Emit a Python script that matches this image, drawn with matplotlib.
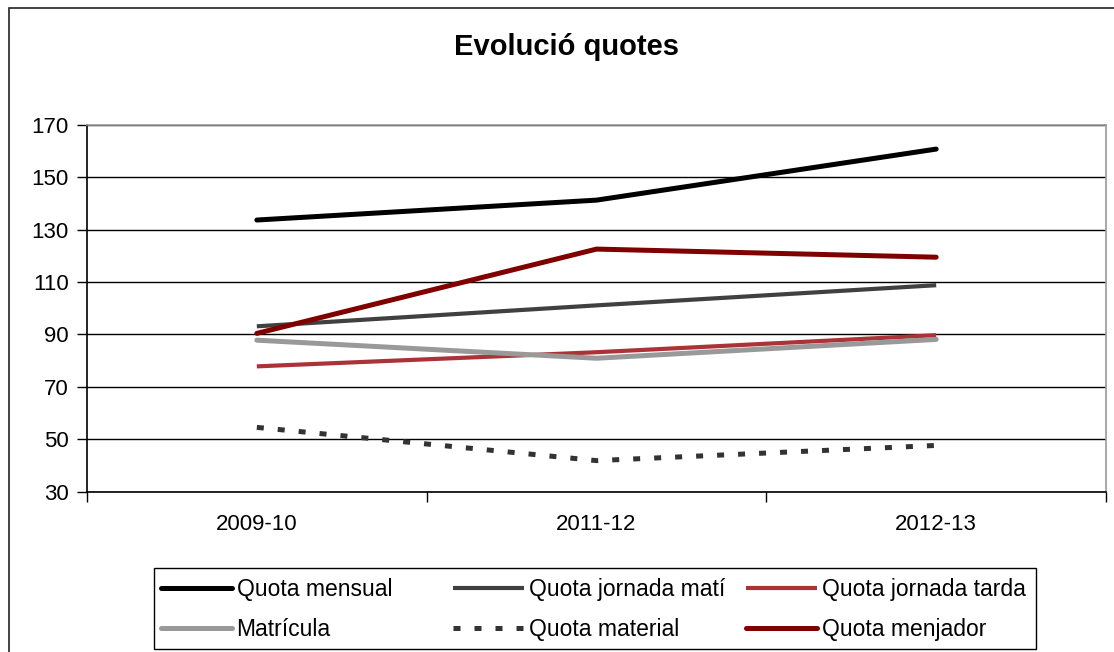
import matplotlib
matplotlib.use("Agg")
import matplotlib.pyplot as plt
from matplotlib.patches import Rectangle
from matplotlib.ticker import FixedLocator

plt.rcParams['font.family'] = ['Liberation Sans', 'DejaVu Sans']

categories = ["2009-10", "2011-12", "2012-13"]
quota_mensual = [133.7, 141.3, 160.8]
quota_mati = [93.1, 101.1, 108.8]
quota_tarda = [77.8, 83.2, 89.7]
matricula = [87.8, 80.9, 88.1]
quota_material = [54.5, 41.8, 47.6]
quota_menjador = [90.4, 122.6, 119.5]
yticks = [30, 50, 70, 90, 110, 130, 150, 170]

W, H = 1114, 652
fig = plt.figure(figsize=(W / 100, H / 100), dpi=100)
ax = fig.add_axes([87 / W, 1 - 491.5 / H, (1106 - 87) / W, (491.5 - 125) / H])

x = list(range(len(categories)))

h = {}
h['mensual'], = ax.plot(x, quota_mensual, color='black', lw=3.6,
                        solid_capstyle='round', label='Quota mensual', zorder=3)
h['mati'], = ax.plot(x, quota_mati, color='#404040', lw=3.0,
                     solid_capstyle='butt', label='Quota jornada matí', zorder=3)
h['tarda'], = ax.plot(x, quota_tarda, color='#ab3338', lw=3.0,
                      solid_capstyle='butt', label='Quota jornada tarda', zorder=3)
h['matricula'], = ax.plot(x, matricula, color='#999999', lw=3.6,
                          solid_capstyle='round', label='Matrícula', zorder=3)
h['material'], = ax.plot(x, quota_material, color='#333333', lw=3.6,
                         linestyle=(0, (1.4, 2.8)), dash_capstyle='butt',
                         label='Quota material', zorder=3)
h['menjador'], = ax.plot(x, quota_menjador, color='#800000', lw=3.6,
                         solid_capstyle='round', label='Quota menjador', zorder=3)

ax.set_xlim(-0.5, len(categories) - 0.5)
ax.set_ylim(30, 170)
ax.set_yticks(yticks)
ax.set_yticklabels([str(v) for v in yticks], fontsize=16)
ax.set_xticks(x)
ax.set_xticklabels(categories, fontsize=16)
ax.xaxis.set_minor_locator(FixedLocator([i - 0.5 for i in range(len(categories) + 1)]))
ax.tick_params(axis='x', which='major', length=0, pad=16)
ax.tick_params(axis='x', which='minor', length=7, width=1, color='black', direction='out')
ax.tick_params(axis='y', length=7, width=1, color='black', direction='out', pad=6)

ax.grid(axis='y', color='black', lw=1)
ax.set_axisbelow(True)
for s in ['top', 'right']:
    ax.spines[s].set_color('#999999')
    ax.spines[s].set_linewidth(1.2)
for s in ['left', 'bottom']:
    ax.spines[s].set_color('black')
    ax.spines[s].set_linewidth(1.2)

fig.text(567 / W, 1 - 47 / H, 'Evolució quotes', ha='center', va='center',
         fontsize=21, fontweight='bold')

# legend frame
fig.add_artist(Rectangle((154 / W, 1 - 649 / H), (1036 - 154) / W, (649 - 568) / H,
                         transform=fig.transFigure, fill=False, edgecolor='black', lw=1.0))

columns = [('mensual', 'matricula'), ('mati', 'material'), ('tarda', 'menjador')]
col_x = [161, 453, 746]
for keys, cx in zip(columns, col_x):
    leg = fig.legend([h[k] for k in keys], [h[k].get_label() for k in keys],
                     loc='upper left', bbox_to_anchor=(cx / W, 1 - 578 / H),
                     fontsize=16.5, frameon=False, handlelength=3.1, handletextpad=0.2,
                     borderaxespad=0, borderpad=0, labelspacing=0.75)

fig.add_artist(Rectangle((9 / W, -0.1), 1.2, 1.1 - 8 / H, transform=fig.transFigure,
                         fill=False, edgecolor='#222222', lw=1.2))

fig.savefig('out.png', dpi=100)
